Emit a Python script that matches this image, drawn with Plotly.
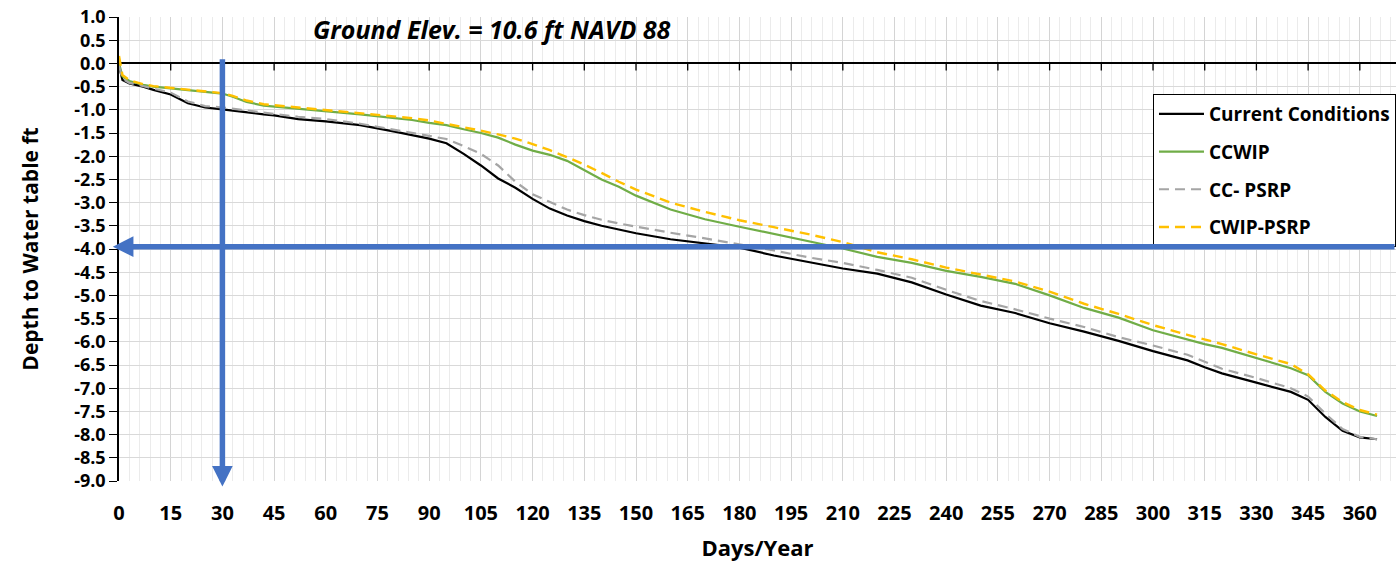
import plotly.graph_objects as go

# Day of year at which each depth was sampled
days = [0, 1, 3, 7, 10, 15, 20, 25, 30, 33, 37, 42, 45, 52, 60, 70, 80, 85, 90, 95,
        100, 105, 110, 115, 120, 125, 130, 135, 140, 145, 150, 160, 170, 180, 190, 200,
        210, 220, 230, 240, 250, 260, 270, 280, 290, 300, 310, 315, 320, 330, 340, 345,
        350, 355, 360, 365]

# Depth to water table (ft) for each scenario
current_conditions = [-0.05, -0.36, -0.43, -0.50, -0.57, -0.67, -0.86, -0.95, -0.99, -1.02,
                      -1.06, -1.10, -1.12, -1.20, -1.25, -1.33, -1.47, -1.55, -1.62, -1.72,
                      -1.95, -2.20, -2.48, -2.68, -2.92, -3.13, -3.28, -3.40, -3.50, -3.58,
                      -3.66, -3.79, -3.88, -3.97, -4.14, -4.28, -4.42, -4.53, -4.72, -4.98,
                      -5.22, -5.38, -5.60, -5.78, -5.98, -6.20, -6.40, -6.55, -6.68, -6.88,
                      -7.08, -7.25, -7.62, -7.92, -8.06, -8.10]
ccwip = [0.00, -0.28, -0.38, -0.46, -0.50, -0.54, -0.57, -0.61, -0.65, -0.72,
         -0.83, -0.91, -0.93, -0.98, -1.03, -1.10, -1.18, -1.22, -1.28, -1.33,
         -1.42, -1.50, -1.60, -1.75, -1.88, -1.97, -2.10, -2.30, -2.50, -2.66,
         -2.85, -3.15, -3.36, -3.52, -3.68, -3.84, -3.99, -4.17, -4.30, -4.47,
         -4.60, -4.75, -5.00, -5.27, -5.48, -5.75, -5.95, -6.05, -6.13, -6.35,
         -6.57, -6.72, -7.08, -7.33, -7.50, -7.60]
cc_psrp = [-0.05, -0.33, -0.42, -0.49, -0.55, -0.63, -0.82, -0.92, -0.95, -0.98,
           -1.02, -1.06, -1.09, -1.15, -1.20, -1.30, -1.43, -1.50, -1.55, -1.63,
           -1.78, -1.95, -2.20, -2.55, -2.82, -2.98, -3.15, -3.27, -3.37, -3.45,
           -3.52, -3.65, -3.77, -3.90, -4.03, -4.18, -4.30, -4.45, -4.62, -4.88,
           -5.12, -5.30, -5.50, -5.68, -5.90, -6.08, -6.28, -6.43, -6.58, -6.78,
           -7.00, -7.18, -7.55, -7.88, -8.05, -8.10]
cwip_psrp = [0.16, -0.25, -0.36, -0.45, -0.49, -0.53, -0.56, -0.60, -0.64, -0.70,
             -0.80, -0.88, -0.90, -0.95, -1.00, -1.07, -1.14, -1.18, -1.23, -1.30,
             -1.38, -1.45, -1.53, -1.62, -1.74, -1.87, -2.02, -2.18, -2.36, -2.55,
             -2.72, -3.00, -3.20, -3.38, -3.53, -3.68, -3.85, -4.07, -4.22, -4.40,
             -4.55, -4.70, -4.92, -5.18, -5.40, -5.64, -5.85, -5.95, -6.05, -6.27,
             -6.48, -6.70, -7.05, -7.30, -7.47, -7.57]

series_names = ["Current Conditions", "CCWIP", "CC- PSRP", "CWIP-PSRP"]

# Axis ticks
x_ticks = list(range(0, 361, 15))
x_tick_labels = [str(v) for v in x_ticks]
y_ticks = [1.0 - 0.5 * i for i in range(21)]
y_tick_labels = [f"{v:.1f}" for v in y_ticks]

# Reference lines marked with arrows: day 30 and a depth of about 3.95 ft
marker_day = 30
marker_depth = -3.95

X_RANGE = [0, 370.5]
Y_RANGE = [-9.0, 1.0]

FONT = "Open Sans"
BLUE = "#4472C4"


def dom_x(d):
    return (d - X_RANGE[0]) / (X_RANGE[1] - X_RANGE[0])


def dom_y(v):
    return (v - Y_RANGE[0]) / (Y_RANGE[1] - Y_RANGE[0])


styles = [
    dict(color="#000000", width=2.2, dash="solid"),
    dict(color="#70AD47", width=2.2, dash="solid"),
    dict(color="#A5A5A5", width=2.2, dash="10px,6px"),
    dict(color="#FFC000", width=2.4, dash="10px,6px"),
]

fig = go.Figure()
for name, vals, st in zip(series_names,
                          [current_conditions, ccwip, cc_psrp, cwip_psrp], styles):
    fig.add_trace(go.Scatter(
        x=days, y=vals, mode="lines", name=name, legendgroup=name,
        line=st, hoverinfo="x+y+name",
    ))

# Tick marks hanging below the zero line
for d in x_ticks[1:]:
    fig.add_shape(type="line", xref="x", yref="y", x0=d, x1=d,
                  ysizemode="pixel", yanchor=0, y0=0, y1=-7,
                  line=dict(color="#000000", width=1.3), layer="above")

# Arrows pointing to the axes
fig.add_annotation(
    xref="x domain", yref="y domain", axref="x domain", ayref="y domain",
    x=dom_x(-1.8), y=dom_y(marker_depth), ax=1.0, ay=dom_y(marker_depth),
    text="", showarrow=True, arrowhead=2, arrowsize=0.75, arrowwidth=5.5,
    arrowcolor=BLUE,
)
fig.add_annotation(
    xref="x domain", yref="y domain", axref="x domain", ayref="y domain",
    x=dom_x(marker_day), y=dom_y(-9.12), ax=dom_x(marker_day), ay=dom_y(0.12),
    text="", showarrow=True, arrowhead=2, arrowsize=0.75, arrowwidth=5.5,
    arrowcolor=BLUE,
)

fig.add_annotation(
    xref="paper", yref="paper", x=0.292, y=0.975, xanchor="center", yanchor="middle",
    text="<b><i>Ground Elev. = 10.6 ft NAVD 88</i></b>", showarrow=False,
    font=dict(family=FONT, size=25, color="#000000"),
)

fig.update_layout(
    width=1396, height=562,
    margin=dict(l=119, r=0, t=17, b=81),
    paper_bgcolor="#FFFFFF", plot_bgcolor="#FFFFFF",
    font=dict(family=FONT, color="#000000"),
    showlegend=True,
    legend=dict(
        x=0.8097, y=0.834, xanchor="left", yanchor="top",
        bgcolor="#FFFFFF", bordercolor="#000000", borderwidth=1,
        font=dict(family=FONT, size=19, color="#000000", weight="bold"),
        tracegroupgap=10, traceorder="grouped", itemwidth=45,
    ),
    xaxis=dict(
        range=X_RANGE, tickmode="array", tickvals=x_ticks, ticktext=x_tick_labels,
        showline=False, zeroline=False, ticks="", ticklabelstandoff=18,
        tickfont=dict(family=FONT, size=20, color="#000000", weight="bold"),
        showgrid=True, gridcolor="#D4D4D4", gridwidth=1,
        minor=dict(dtick=3, tick0=0, showgrid=True, gridcolor="#EBEBEB", gridwidth=1),
        title=dict(text="Days/Year", standoff=15,
                   font=dict(family=FONT, size=22, color="#000000", weight="bold")),
    ),
    yaxis=dict(
        range=Y_RANGE, tickmode="array", tickvals=y_ticks, ticktext=y_tick_labels,
        showline=True, linecolor="#000000", linewidth=1.5,
        ticks="outside", ticklen=8, tickcolor="#000000", tickwidth=1.3,
        tickfont=dict(family=FONT, size=18, color="#000000", weight="bold"),
        showgrid=True, gridcolor="#D9D9D9", gridwidth=1,
        zeroline=True, zerolinecolor="#000000", zerolinewidth=1.5,
        title=dict(text="Depth to Water table ft", standoff=30,
                   font=dict(family=FONT, size=21, color="#000000", weight="bold")),
    ),
)

fig.write_html("out.html")
